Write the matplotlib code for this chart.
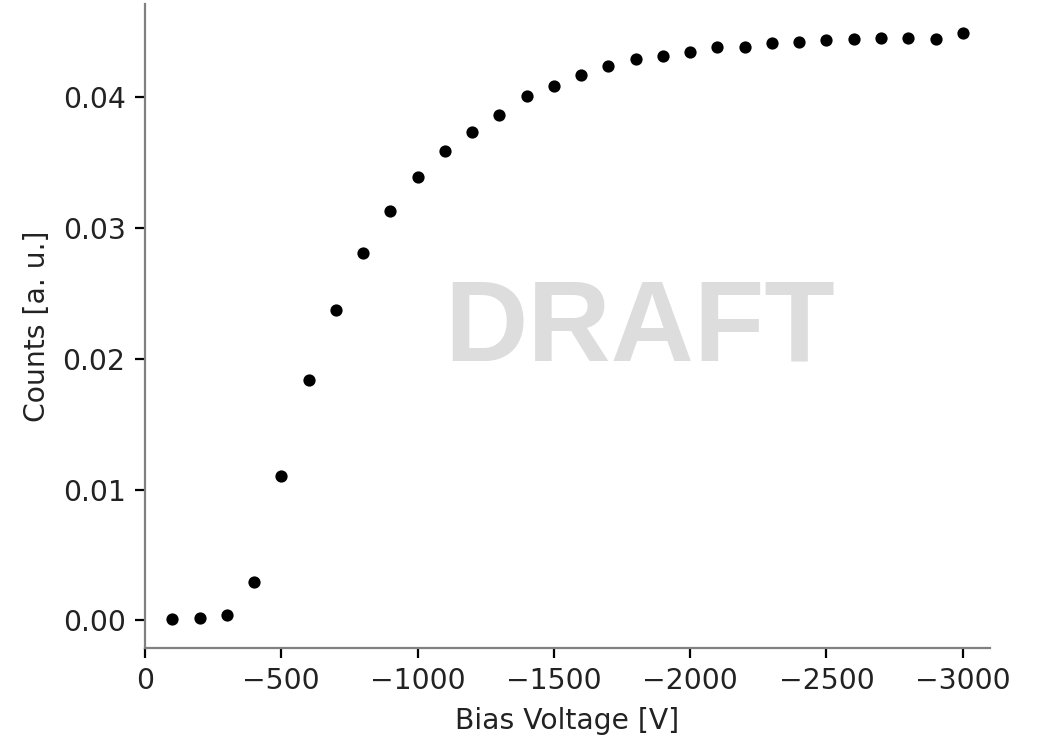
import numpy as np
import matplotlib.pyplot as plt

plt.rcParams['font.size'] = 10.2
plt.rcParams['text.color'] = '#222222'
plt.rcParams['axes.labelcolor'] = '#222222'
plt.rcParams['xtick.labelcolor'] = '#222222'
plt.rcParams['ytick.labelcolor'] = '#222222'

# bias voltage scan
voltage = [-100, -200, -300, -400, -500, -600, -700, -800, -900, -1000,
           -1100, -1200, -1300, -1400, -1500, -1600, -1700, -1800, -1900, -2000,
           -2100, -2200, -2300, -2400, -2500, -2600, -2700, -2800, -2900, -3000]
counts = [0.00013, 0.0002, 0.0004, 0.0029, 0.01105, 0.01834, 0.02375, 0.0281, 0.03132, 0.03387,
          0.03586, 0.03729, 0.03864, 0.04008, 0.04084, 0.04171, 0.04234, 0.04288, 0.04314, 0.04347,
          0.0438, 0.04385, 0.04413, 0.04423, 0.04439, 0.04441, 0.04449, 0.04449, 0.04446, 0.04487]

fig = plt.figure(figsize=(5.19, 3.68), dpi=200)
ax = fig.add_axes([0.1397, 0.1196, 0.8141, 0.8750])

ax.plot(voltage, counts, 'o', color='black', markersize=3.4)
ax.set_xlim(0, -3100)
ax.set_xlabel('Bias Voltage [V]')
ax.set_ylabel('Counts [a. u.]')

ax.spines['top'].set_visible(False)
ax.spines['right'].set_visible(False)
ax.spines['left'].set_color('#808080')
ax.spines['bottom'].set_color('#808080')

ax.text(0.585, 0.493, 'DRAFT', transform=ax.transAxes, ha='center', va='center',
        fontsize=41.5, fontweight='bold', family='Liberation Sans', color='#dddddd', zorder=0)

plt.savefig('out.png', dpi=200)
